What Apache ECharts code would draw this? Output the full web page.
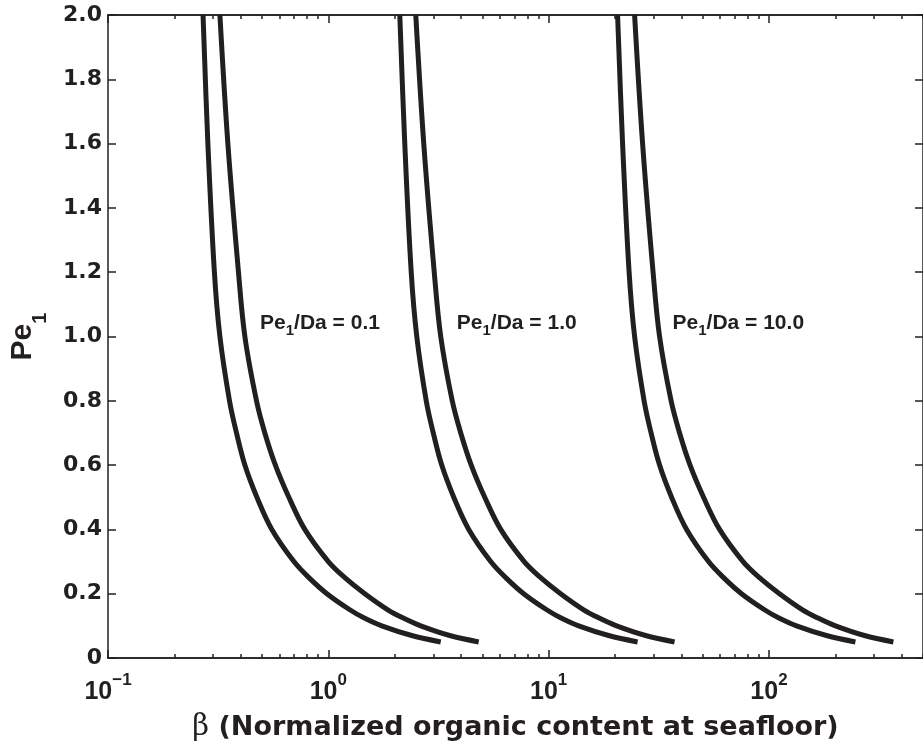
<!DOCTYPE html>
<html>
<head>
<meta charset="utf-8">
<title>Pe1 vs beta</title>
<script src="https://cdn.jsdelivr.net/npm/echarts@6/dist/echarts.min.js"></script>
<style>
  html, body { margin: 0; padding: 0; background: #fff; }
  #chart { width: 923px; height: 747px; }
</style>
</head>
<body>
<div id="chart"></div>
<script>
var pe1 = [2.0, 1.6, 1.2, 1.0, 0.8, 0.7, 0.6, 0.5, 0.4, 0.3, 0.25, 0.2, 0.15, 0.125, 0.1, 0.07, 0.05];

// beta values, two curves per Pe1/Da group
var betaA1 = [0.270, 0.284, 0.304, 0.322, 0.356, 0.383, 0.418, 0.474, 0.554, 0.698, 0.816, 0.985, 1.252, 1.449, 1.748, 2.391, 3.237];
var betaA2 = [0.322, 0.350, 0.391, 0.418, 0.472, 0.515, 0.575, 0.662, 0.782, 1.000, 1.188, 1.464, 1.862, 2.177, 2.627, 3.556, 4.814];
var betaB1 = [2.110, 2.223, 2.378, 2.520, 2.782, 2.994, 3.271, 3.709, 4.338, 5.457, 6.383, 7.702, 9.793, 11.33, 13.68, 18.71, 25.33];
var betaB2 = [2.494, 2.711, 3.025, 3.237, 3.650, 3.990, 4.452, 5.126, 6.058, 7.743, 9.198, 11.33, 14.41, 16.86, 20.34, 27.54, 37.27];
var betaC1 = [20.55, 21.65, 23.18, 24.55, 27.11, 29.16, 31.87, 36.13, 42.26, 53.16, 62.20, 75.04, 95.41, 110.4, 133.3, 182.3, 246.7];
var betaC2 = [24.55, 26.69, 29.78, 31.87, 35.95, 39.28, 43.83, 50.47, 59.65, 76.24, 90.54, 111.6, 141.9, 166.0, 200.3, 271.1, 366.9];

// curve annotations
var groupLabels = ['0.1', '1.0', '10.0'];
var labelPos = [[0.49, 1.04], [3.83, 1.04], [36.5, 1.04]];

// axis ticks
var xMajor = [0.1, 1, 10, 100];
var xExponents = ['\u22121', '0', '1', '2'];
var xMinor = [0.2, 0.3, 0.4, 0.5, 0.6, 0.7, 0.8, 0.9,
              2, 3, 4, 5, 6, 7, 8, 9,
              20, 30, 40, 50, 60, 70, 80, 90,
              200, 300, 400, 500];

var ink = '#231f20';
var sans = '"Liberation Sans", Arial, Helvetica, sans-serif';
var wide = '"DejaVu Sans", "Liberation Sans", sans-serif';

var chart = echarts.init(document.getElementById('chart'));

function pairs(beta) {
  return pe1.map(function (p, i) { return [beta[i], p]; });
}

function curve(name, beta) {
  return {
    name: name,
    type: 'line',
    data: pairs(beta),
    showSymbol: false,
    smooth: 0.35,
    lineStyle: { color: ink, width: 5 },
    itemStyle: { color: ink },
    z: 3
  };
}

function xAxis(pos, ticks, len, withLabels) {
  return {
    type: 'log',
    logBase: 10,
    min: 0.1,
    max: 500,
    position: pos,
    axisLine: { show: true, onZero: false, lineStyle: { color: ink, width: 1.5 } },
    axisTick: { show: true, inside: true, length: len, customValues: ticks,
                lineStyle: { color: ink, width: 1.5 } },
    axisLabel: withLabels ? {
      customValues: xMajor,
      margin: 14,
      formatter: function (v) {
        var k = Math.round(Math.log10(v)) + 1;
        return '{n|10}{e|' + xExponents[k] + '}';
      },
      rich: {
        n: { fontFamily: sans, fontWeight: 'bold', fontSize: 25, lineHeight: 40, color: ink },
        e: { fontFamily: sans, fontWeight: 'bold', fontSize: 17, lineHeight: 17,
             verticalAlign: 'top', color: ink }
      }
    } : { show: false },
    splitLine: { show: false },
    minorTick: { show: false }
  };
}

function yAxis(pos, withLabels) {
  return {
    type: 'value',
    min: 0,
    max: 2,
    interval: 0.2,
    position: pos,
    axisLine: { show: true, onZero: false, lineStyle: { color: ink, width: 1.5 } },
    axisTick: { show: true, inside: true, length: 8, lineStyle: { color: ink, width: 1.5 } },
    axisLabel: withLabels ? {
      margin: 6,
      fontFamily: wide, fontWeight: 'bold', fontSize: 22, color: ink,
      formatter: function (v) { return v === 0 ? '0' : v.toFixed(1); }
    } : { show: false },
    splitLine: { show: false }
  };
}

var xAxes = [
  xAxis('bottom', xMajor, 8, true),
  xAxis('bottom', xMinor, 4, false),
  xAxis('top', xMajor, 8, false),
  xAxis('top', xMinor, 4, false)
];
xAxes[0].name = '{b|\u03b2}{t| (Normalized organic content at seafloor)}';
xAxes[0].nameLocation = 'middle';
xAxes[0].nameGap = 55;
xAxes[0].nameTextStyle = {
  rich: {
    b: { fontFamily: '"DejaVu Serif", "Liberation Serif", serif', fontSize: 29, color: ink },
    t: { fontFamily: wide, fontWeight: 'bold', fontSize: 27, color: ink }
  }
};

var yAxes = [yAxis('left', true), yAxis('right', false)];
yAxes[0].name = '{a|Pe}{s|1}';
yAxes[0].nameLocation = 'middle';
yAxes[0].nameRotate = 90;
yAxes[0].nameGap = 58;
yAxes[0].nameTextStyle = {
  rich: {
    a: { fontFamily: sans, fontWeight: 'bold', fontSize: 30, lineHeight: 54, color: ink },
    s: { fontFamily: sans, fontWeight: 'bold', fontSize: 20, lineHeight: 20,
         verticalAlign: 'bottom', color: ink }
  }
};

var series = [
  curve('Pe1/Da = 0.1 (a)', betaA1),
  curve('Pe1/Da = 0.1 (b)', betaA2),
  curve('Pe1/Da = 1.0 (a)', betaB1),
  curve('Pe1/Da = 1.0 (b)', betaB2),
  curve('Pe1/Da = 10.0 (a)', betaC1),
  curve('Pe1/Da = 10.0 (b)', betaC2),
  {
    name: 'labels',
    type: 'scatter',
    symbolSize: 0,
    itemStyle: { color: ink, opacity: 1 },
    data: labelPos.map(function (p, i) { return { value: p, text: groupLabels[i] }; }),
    label: {
      show: true,
      position: 'right',
      distance: 0,
      color: ink,
      formatter: function (p) { return '{a|Pe}{s|1}{a|/Da = ' + p.data.text + '}'; },
      rich: {
        a: { fontFamily: sans, fontWeight: 'bold', fontSize: 21, lineHeight: 30, color: ink },
        s: { fontFamily: sans, fontWeight: 'bold', fontSize: 15, lineHeight: 15,
             verticalAlign: 'bottom', color: ink }
      }
    },
    emphasis: { disabled: true },
    z: 4
  }
];

chart.setOption({
  animation: false,
  backgroundColor: '#fff',
  grid: { left: 108, right: 0, top: 15, bottom: 89, containLabel: false },
  xAxis: xAxes,
  yAxis: yAxes,
  series: series
});
</script>
</body>
</html>
